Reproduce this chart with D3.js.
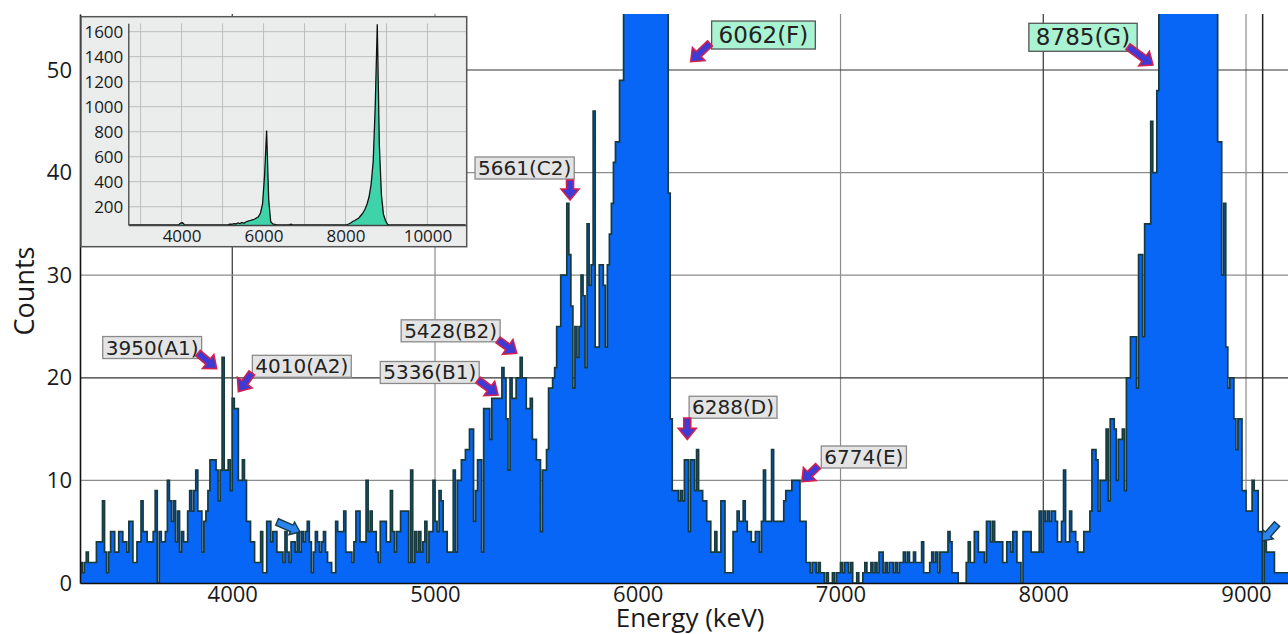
<!DOCTYPE html>
<html>
<head>
<meta charset="utf-8">
<script src="https://cdn.jsdelivr.net/npm/d3@7"></script>
<style>
body { margin: 0; background: #fff; }
svg text { font-family: "Open Sans", sans-serif; fill: #1a1a1a; }
</style>
</head>
<body>
<svg id="chart" width="1288" height="634"></svg>
<script>
// main spectrum: 10 keV bins starting at 3240 keV
const binStart = 3240
const binWidth = 10
const counts = [
  2,2,1,2,3,2,
  2,2,2,4,4,4,8,3,1,3,
  5,5,3,3,5,5,4,4,3,6,
  6,2,2,4,4,8,5,5,4,4,
  4,5,9,0,5,4,4,5,10,8,
  6,8,4,7,3,5,4,4,7,9,
  7,9,11,7,7,3,6,7,9,12,
  12,12,11,8,11,22,11,11,12,9,
  18,17,17,10,10,12,10,6,6,4,
  4,2,2,2,5,1,1,6,6,4,
  5,5,3,3,3,2,5,3,2,4,
  4,3,5,3,5,4,5,6,4,1,
  3,5,4,3,4,5,3,2,2,1,
  1,6,5,5,5,7,3,3,3,2,
  4,7,7,4,4,4,10,5,7,5,
  5,3,2,6,6,6,4,4,9,5,
  3,5,5,7,7,7,7,2,11,2,
  5,3,5,3,4,6,2,5,5,10,
  6,5,9,8,5,5,3,3,3,11,
  3,10,10,12,12,13,13,15,15,6,
  9,12,12,3,17,17,17,14,18,18,
  18,18,18,21,20,16,11,20,18,18,
  20,20,22,20,20,17,17,18,14,14,
  12,12,5,11,11,13,19,19,20,21,
  25,25,30,30,30,37,32,27,19,25,
  22,25,30,28,21,35,29,31,46,23,
  23,31,31,29,23,31,34,37,41,43,
  43,49,49,80,130,200,290,390,480,560,
  560,640,700,640,520,400,290,200,140,100,
  80,70,62,58,57,38,16,9,9,9,
  8,9,8,12,12,5,12,12,9,13,
  9,9,8,8,6,6,3,3,5,3,
  3,8,8,1,1,1,1,5,5,7,
  6,6,8,6,5,5,4,4,5,5,
  3,6,11,6,6,6,13,6,6,6,
  6,6,8,9,9,9,10,10,10,10,
  6,6,6,2,2,1,2,2,1,2,
  1,1,0,1,0,0,1,0,1,1,
  2,1,2,2,1,2,0,0,1,0,
  0,1,2,1,1,2,1,2,1,3,
  3,1,2,1,2,2,1,2,1,2,
  2,3,2,3,2,2,3,2,2,2,
  4,1,1,1,2,3,2,3,1,3,
  3,3,3,5,4,1,1,1,0,0,
  0,0,2,4,2,2,5,5,3,3,
  3,2,6,6,4,6,4,4,4,4,
  2,2,4,4,3,5,5,2,2,0,
  5,5,5,5,3,3,3,3,7,3,
  7,6,7,6,7,7,6,4,4,6,
  11,4,4,7,5,5,4,3,3,3,
  5,5,5,7,13,13,12,7,10,10,
  10,15,8,16,16,15,10,14,14,15,
  9,20,20,24,24,24,19,32,32,24,
  35,35,35,45,40,40,48,70,110,160,
  220,300,400,520,650,800,950,1100,1300,1500,
  1600,1550,1300,1000,800,600,450,330,240,180,
  140,100,80,70,60,58,43,43,30,37,
  23,19,20,20,16,13,16,16,9,9,
  7,7,7,10,9,9,5,5,0,4,
  3,3,3,3,1,1,1,1,1,1,
  1
]
const xTicks = [4000, 5000, 6000, 7000, 8000, 9000]
const yTicks = [0, 10, 20, 30, 40, 50]
const markerEnergies = [9082]

// labelled peaks: arrow tip, arrow tail and label centre in (keV, counts)
const peakLabels = [
  { text: "3950(A1)", tipE: 3923, tipC: 20.9, tailE: 3831, tailC: 22.4, boxE: 3605, boxC: 22.95 },
  { text: "4010(A2)", tipE: 4030, tipC: 18.65, tailE: 4096, tailC: 20.47, boxE: 4343, boxC: 21.12 },
  { text: "5336(B1)", tipE: 5311, tipC: 18.32, tailE: 5212, tailC: 19.79, boxE: 4974, boxC: 20.52 },
  { text: "5428(B2)", tipE: 5403, tipC: 22.39, tailE: 5311, tailC: 23.68, boxE: 5077, boxC: 24.58 },
  { text: "5661(C2)", tipE: 5666, tipC: 37.33, tailE: 5666, tailC: 39.28, boxE: 5442, boxC: 40.45 },
  { text: "6288(D)", tipE: 6244, tipC: 14.0, tailE: 6244, tailC: 16.08, boxE: 6470, boxC: 17.13 },
  { text: "6774(E)", tipE: 6809, tipC: 9.87, tailE: 6889, tailC: 11.4, boxE: 7115, boxC: 12.28 },
  { text: "6062(F)", tipE: 6261, tipC: 50.81, tailE: 6356, tailC: 52.6, boxE: 6620, boxC: 53.41 },
  { text: "8785(G)", tipE: 8541, tipC: 50.49, tailE: 8418, tailC: 52.27, boxE: 8196, boxC: 53.19 }
]
const highlighted = ["6062(F)", "8785(G)"]
const pointers = [
  { tailE: 4221, tailC: 5.95, tipE: 4334, tipC: 4.97 },
  { tailE: 9153, tailC: 5.75, tipE: 9079, tipC: 4.09 }
]

// inset: full spectrum, 50 keV bins from 2700 keV
const insetStart = 2700
const insetBinWidth = 50
const insetCounts = [
  10,12,11,13,12,14,12,13,12,14,
  12,13,15,14,16,15,18,17,20,22,
  20,22,28,35,50,70,72,45,25,18,
  15,16,17,16,18,19,20,22,20,21,
  22,24,25,30,35,30,28,45,55,60,
  60,65,62,70,65,75,68,80,85,90,
  95,100,110,120,150,220,450,810,260,80,
  62,58,50,45,40,42,50,48,56,60,
  52,40,25,12,8,6,6,7,8,9,
  10,10,11,12,12,14,15,16,18,22,
  24,26,30,34,40,48,55,62,70,82,
  90,100,110,130,150,180,220,280,380,560,
  1000,1660,700,300,140,90,60,40,25,15,
  12,10,9,8,8,7,7,6,6,5,
  5,5,4,4,4,3,3,3,3,3,
  2,2,2,2,2,2,1,1,1,1,
  1,1,1,1,1
]
const insetXTicks = [4000, 6000, 8000, 10000]
const insetYTicks = [200, 400, 600, 800, 1000, 1200, 1400, 1600]
const insetGridX = [3000, 4000, 5000, 6000, 7000, 8000, 9000, 10000]

const svg = d3.select("#chart")
const x = d3.scaleLinear().domain([3249, 9207]).range([80, 1288])
const y = d3.scaleLinear().domain([0, 55.46]).range([583, 14])

const defs = svg.append("defs")
defs.append("clipPath").attr("id", "plotclip")
  .append("rect").attr("x", 80).attr("y", 14).attr("width", 1208).attr("height", 569)

// grid
const darkX = [4000, 8000], darkY = [20, 50]
svg.append("g").selectAll("line").data(xTicks).enter().append("line")
  .attr("x1", d => x(d)).attr("x2", d => x(d)).attr("y1", 14).attr("y2", 583)
  .attr("stroke", d => darkX.includes(d) ? "#333" : "#8c8c8c").attr("stroke-width", 1.2)
svg.append("g").selectAll("line").data(yTicks.filter(d => d > 0)).enter().append("line")
  .attr("x1", 80).attr("x2", 1288).attr("y1", d => y(d)).attr("y2", d => y(d))
  .attr("stroke", d => darkY.includes(d) ? "#333" : "#8c8c8c").attr("stroke-width", 1.2)
svg.append("g").selectAll("line").data(markerEnergies).enter().append("line")
  .attr("x1", d => x(d)).attr("x2", d => x(d)).attr("y1", 14).attr("y2", 583)
  .attr("stroke", "#222").attr("stroke-width", 1.5)

// histogram
const pts = counts.map((c, i) => [binStart + i * binWidth, c])
pts.push([binStart + counts.length * binWidth, counts[counts.length - 1]])
const hist = svg.append("g").attr("clip-path", "url(#plotclip)")
hist.append("path").datum(pts)
  .attr("d", d3.area().x(d => x(d[0])).y0(y(0)).y1(d => y(d[1])).curve(d3.curveStepAfter))
  .attr("fill", "#0866f7")
hist.append("path").datum(pts)
  .attr("d", d3.line().x(d => x(d[0])).y(d => y(d[1])).curve(d3.curveStepAfter))
  .attr("fill", "none").attr("stroke", "#163a3e").attr("stroke-width", 1.7)

// axes
svg.append("g").attr("transform", "translate(0,583)")
  .call(d3.axisBottom(x).tickValues(xTicks).tickSize(0).tickPadding(3).tickFormat(d3.format("d")))
svg.append("g").attr("transform", "translate(80,0)")
  .call(d3.axisLeft(y).tickValues(yTicks).tickSize(0).tickPadding(8).tickFormat(d3.format("d")))
svg.selectAll(".tick text").style("font-size", "22px").style("font-family", "Open Sans")
svg.selectAll(".domain").attr("stroke", "#111").attr("stroke-width", 1.6)

svg.append("text").attr("x", 690).attr("y", 627).attr("text-anchor", "middle")
  .style("font-size", "26px").text("Energy (keV)")
svg.append("text").attr("transform", "translate(34,291) rotate(-90)").attr("text-anchor", "middle")
  .style("font-size", "27px").text("Counts")

// arrows
function arrowPath(x0, y0, x1, y1, shaft, headW, headL) {
  const dx = x1 - x0, dy = y1 - y0, L = Math.hypot(dx, dy)
  const ux = dx / L, uy = dy / L, px = -uy, py = ux
  const bx = x1 - ux * headL, by = y1 - uy * headL
  const p = [
    [x0 + px * shaft / 2, y0 + py * shaft / 2],
    [bx + px * shaft / 2, by + py * shaft / 2],
    [bx + px * headW / 2, by + py * headW / 2],
    [x1, y1],
    [bx - px * headW / 2, by - py * headW / 2],
    [bx - px * shaft / 2, by - py * shaft / 2],
    [x0 - px * shaft / 2, y0 - py * shaft / 2]
  ]
  return "M" + p.map(q => q.join(",")).join("L") + "Z"
}

svg.append("g").selectAll("path").data(pointers).enter().append("path")
  .attr("d", d => arrowPath(x(d.tailE), y(d.tailC), x(d.tipE), y(d.tipC), 7, 14, 9))
  .attr("fill", "#2a86ee").attr("stroke", "#183a44").attr("stroke-width", 1.4)

// labels
const lab = svg.append("g")
peakLabels.forEach(d => {
  const big = highlighted.includes(d.text)
  const g = lab.append("g")
  const cx = x(d.boxE), cy = y(d.boxC)
  const rect = g.append("rect")
  const t = g.append("text").attr("x", cx).attr("y", cy)
    .attr("text-anchor", "middle").attr("dominant-baseline", "central")
    .style("font-family", "DejaVu Sans").style("font-size", big ? "23px" : "20px")
    .style("fill", "#222").text(d.text)
  const w = t.node().getComputedTextLength() + (big ? 14 : 6)
  const h = big ? 28 : 22
  rect.attr("x", cx - w / 2).attr("y", cy - h / 2).attr("width", w).attr("height", h)
    .attr("fill", big ? "#a9f2d2" : "#e4e4e4").attr("stroke", big ? "#555" : "#8a8a8a").attr("stroke-width", 1.3)
  lab.append("path")
    .attr("d", arrowPath(x(d.tailE), y(d.tailC), x(d.tipE), y(d.tipC), 7, 18, 11))
    .attr("fill", "#3d3ad6").attr("stroke", "#d2204f").attr("stroke-width", 1.6)
})

// inset
const inset = svg.append("g")
inset.append("rect").attr("x", 81).attr("y", 16.7).attr("width", 385.7).attr("height", 230)
  .attr("fill", "#ebeded").attr("stroke", "#555").attr("stroke-width", 1.5)
const ix = d3.scaleLinear().domain([2700, 10940]).range([128.3, 466])
const iy = d3.scaleLinear().domain([54, 1667]).range([225, 23.3])
defs.append("clipPath").attr("id", "insetclip")
  .append("rect").attr("x", 128.3).attr("y", 23.3).attr("width", 337.7).attr("height", 201.7)

inset.append("g").selectAll("line").data(insetGridX).enter().append("line")
  .attr("x1", d => ix(d)).attr("x2", d => ix(d)).attr("y1", 23.3).attr("y2", 225)
  .attr("stroke", "#bdbdbd").attr("stroke-width", 1)
inset.append("g").selectAll("line").data(insetYTicks).enter().append("line")
  .attr("x1", 128.3).attr("x2", 466).attr("y1", d => iy(d)).attr("y2", d => iy(d))
  .attr("stroke", "#bdbdbd").attr("stroke-width", 1)

const ipts = insetCounts.map((c, i) => [insetStart + (i + 0.5) * insetBinWidth, c])
const ig = inset.append("g").attr("clip-path", "url(#insetclip)")
ig.append("path").datum(ipts)
  .attr("d", d3.area().x(d => ix(d[0])).y0(225).y1(d => iy(Math.max(d[1], 54))).curve(d3.curveBasis))
  .attr("fill", "#3fd3aa")
ig.append("path").datum(ipts)
  .attr("d", d3.line().x(d => ix(d[0])).y(d => iy(Math.max(d[1], 54))))
  .attr("fill", "none").attr("stroke", "#111").attr("stroke-width", 1.3)

inset.append("g").attr("transform", "translate(0,225)")
  .call(d3.axisBottom(ix).tickValues(insetXTicks).tickSize(0).tickPadding(5).tickFormat(d3.format("d")))
  .call(g => g.selectAll("text").style("font-size", "17px"))
inset.append("g").attr("transform", "translate(128.3,0)")
  .call(d3.axisLeft(iy).tickValues(insetYTicks).tickSize(0).tickPadding(5).tickFormat(d3.format("d")))
  .call(g => g.selectAll("text").style("font-size", "17px"))
inset.selectAll(".domain").attr("stroke", "#444").attr("stroke-width", 1.3)
</script>
</body>
</html>
